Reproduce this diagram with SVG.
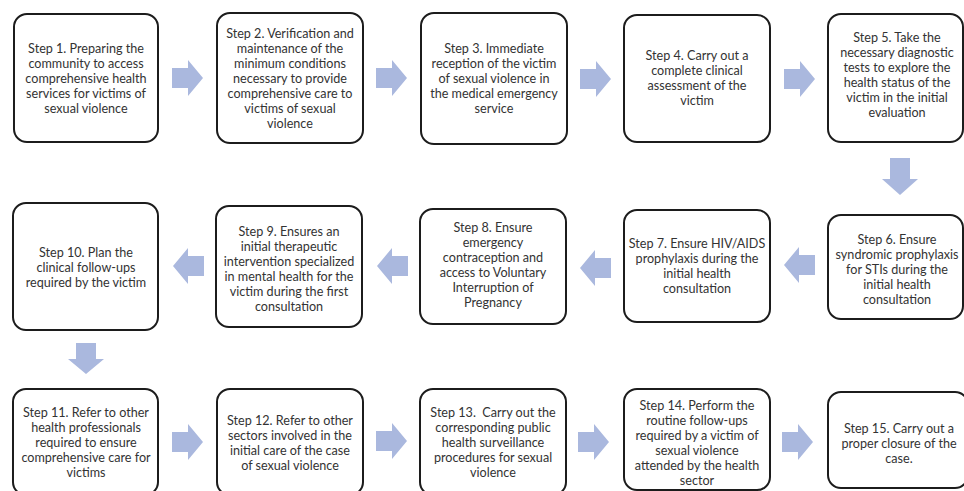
<svg xmlns="http://www.w3.org/2000/svg" xmlns:xlink="http://www.w3.org/1999/xlink" width="964" height="491" viewBox="0 0 964 491">
<style>
.box{fill:#ffffff;stroke:#1c1c1c;stroke-width:2}
.t{font-family:Lato,"Liberation Sans",sans-serif;font-size:12.6px;fill:#333333;text-anchor:middle}
.arr{fill:#aab8de}
</style>
<defs>
<path id="ar" d="M0,-10 H16 V-18 L31,0 L16,18 V10 H0 Z"/>
<path id="ad" d="M-10,0 V21 H-18 L0,37 L18,21 H10 V0 Z"/>
</defs>
<rect width="964" height="491" fill="#ffffff"/>

<g id="connectors" class="arr">
<use xlink:href="#ar" transform="translate(172,78)"/>
<use xlink:href="#ar" transform="translate(376,78)"/>
<use xlink:href="#ar" transform="translate(580,79)"/>
<use xlink:href="#ar" transform="translate(784,79)"/>
<use xlink:href="#ad" transform="translate(900,158)"/>
<use xlink:href="#ar" transform="translate(815,265) rotate(180)"/>
<use xlink:href="#ar" transform="translate(611,268) rotate(180)"/>
<use xlink:href="#ar" transform="translate(408,266) rotate(180)"/>
<use xlink:href="#ar" transform="translate(204,266) rotate(180)"/>
<use xlink:href="#ar" transform="translate(86,343) rotate(90)"/>
<use xlink:href="#ar" transform="translate(172,442)"/>
<use xlink:href="#ar" transform="translate(376,441)"/>
<use xlink:href="#ar" transform="translate(578,442)"/>
<use xlink:href="#ar" transform="translate(782,442)"/>
</g>

<g id="step1">
<rect class="box" x="14" y="14" width="144" height="128" rx="13"/>
<text class="t"><tspan x="86" y="52.5">Step 1. Preparing the</tspan><tspan x="86" y="67.5">community to access</tspan><tspan x="86" y="82.5">comprehensive health</tspan><tspan x="86" y="97.5">services for victims of</tspan><tspan x="86" y="112.5">sexual violence</tspan></text>
</g>
<g id="step2">
<rect class="box" x="217" y="13" width="146" height="130" rx="13"/>
<text class="t"><tspan x="290" y="37.5">Step 2. Verification and</tspan><tspan x="290" y="52.5">maintenance of the</tspan><tspan x="290" y="67.5">minimum conditions</tspan><tspan x="290" y="82.5">necessary to provide</tspan><tspan x="290" y="97.5">comprehensive care to</tspan><tspan x="290" y="112.5">victims of sexual</tspan><tspan x="290" y="127.5">violence</tspan></text>
</g>
<g id="step3">
<rect class="box" x="421" y="13" width="146" height="131" rx="13"/>
<text class="t"><tspan x="494" y="52.5">Step 3. Immediate</tspan><tspan x="494" y="67.5">reception of the victim</tspan><tspan x="494" y="82.5">of sexual violence in</tspan><tspan x="494" y="97.5">the medical emergency</tspan><tspan x="494" y="112.5">service</tspan></text>
</g>
<g id="step4">
<rect class="box" x="624" y="15" width="146" height="127" rx="13"/>
<text class="t"><tspan x="697" y="60">Step 4. Carry out a</tspan><tspan x="697" y="75">complete clinical</tspan><tspan x="697" y="90">assessment of the</tspan><tspan x="697" y="105">victim</tspan></text>
</g>
<g id="step5">
<rect class="box" x="828" y="14" width="135" height="128" rx="13"/>
<text class="t"><tspan x="897" y="42">Step 5. Take the</tspan><tspan x="897" y="57">necessary diagnostic</tspan><tspan x="897" y="72">tests to explore the</tspan><tspan x="897" y="87">health status of the</tspan><tspan x="897" y="102">victim in the initial</tspan><tspan x="897" y="117">evaluation</tspan></text>
</g>

<g id="step6">
<rect class="box" x="828" y="215" width="135" height="104" rx="13"/>
<text class="t"><tspan x="897" y="243.5">Step 6. Ensure</tspan><tspan x="897" y="258.5">syndromic prophylaxis</tspan><tspan x="897" y="273.5">for STIs during the</tspan><tspan x="897" y="288.5">initial health</tspan><tspan x="897" y="303.5">consultation</tspan></text>
</g>
<g id="step7">
<rect class="box" x="624" y="210" width="146" height="112" rx="13"/>
<text class="t"><tspan x="697" y="248">Step 7. Ensure HIV/AIDS</tspan><tspan x="697" y="263">prophylaxis during the</tspan><tspan x="697" y="278">initial health</tspan><tspan x="697" y="293">consultation</tspan></text>
</g>
<g id="step8">
<rect class="box" x="420" y="209" width="146" height="115" rx="13"/>
<text class="t"><tspan x="493" y="232">Step 8. Ensure</tspan><tspan x="493" y="247">emergency</tspan><tspan x="493" y="262">contraception and</tspan><tspan x="493" y="277">access to Voluntary</tspan><tspan x="493" y="292">Interruption of</tspan><tspan x="493" y="307">Pregnancy</tspan></text>
</g>
<g id="step9">
<rect class="box" x="216" y="206" width="146" height="121" rx="13"/>
<text class="t"><tspan x="289" y="236">Step 9. Ensures an</tspan><tspan x="289" y="251">initial therapeutic</tspan><tspan x="289" y="266">intervention specialized</tspan><tspan x="289" y="281">in mental health for the</tspan><tspan x="289" y="296">victim during the first</tspan><tspan x="289" y="311">consultation</tspan></text>
</g>
<g id="step10">
<rect class="box" x="13" y="203" width="145" height="127" rx="13"/>
<text class="t"><tspan x="86" y="256.5">Step 10. Plan the</tspan><tspan x="86" y="271.5">clinical follow-ups</tspan><tspan x="86" y="286.5">required by the victim</tspan></text>
</g>

<g id="step11">
<rect class="box" x="13" y="389" width="145" height="106" rx="13"/>
<text class="t"><tspan x="86" y="416.5">Step 11. Refer to other</tspan><tspan x="86" y="431.5">health professionals</tspan><tspan x="86" y="446.5">required to ensure</tspan><tspan x="86" y="461.5">comprehensive care for</tspan><tspan x="86" y="476.5">victims</tspan></text>
</g>
<g id="step12">
<rect class="box" x="217" y="389" width="146" height="106" rx="13"/>
<text class="t"><tspan x="290" y="425">Step 12. Refer to other</tspan><tspan x="290" y="440">sectors involved in the</tspan><tspan x="290" y="455">initial care of the case</tspan><tspan x="290" y="470">of sexual violence</tspan></text>
</g>
<g id="step13">
<rect class="box" x="420" y="389" width="146" height="106" rx="13"/>
<text class="t"><tspan x="493" y="416.5">Step 13.&#160; Carry out the</tspan><tspan x="493" y="431.5">corresponding public</tspan><tspan x="493" y="446.5">health surveillance</tspan><tspan x="493" y="461.5">procedures for sexual</tspan><tspan x="493" y="476.5">violence</tspan></text>
</g>
<g id="step14">
<rect class="box" x="624" y="389" width="146" height="101" rx="13"/>
<text class="t"><tspan x="697" y="410">Step 14. Perform the</tspan><tspan x="697" y="425">routine follow-ups</tspan><tspan x="697" y="440">required by a victim of</tspan><tspan x="697" y="455">sexual violence</tspan><tspan x="697" y="470">attended by the health</tspan><tspan x="697" y="485">sector</tspan></text>
</g>
<g id="step15">
<rect class="box" x="828" y="392" width="140" height="96" rx="13"/>
<text class="t"><tspan x="899" y="432.5">Step 15. Carry out a</tspan><tspan x="899" y="447.5">proper closure of the</tspan><tspan x="899" y="462.5">case.</tspan></text>
</g>
</svg>
